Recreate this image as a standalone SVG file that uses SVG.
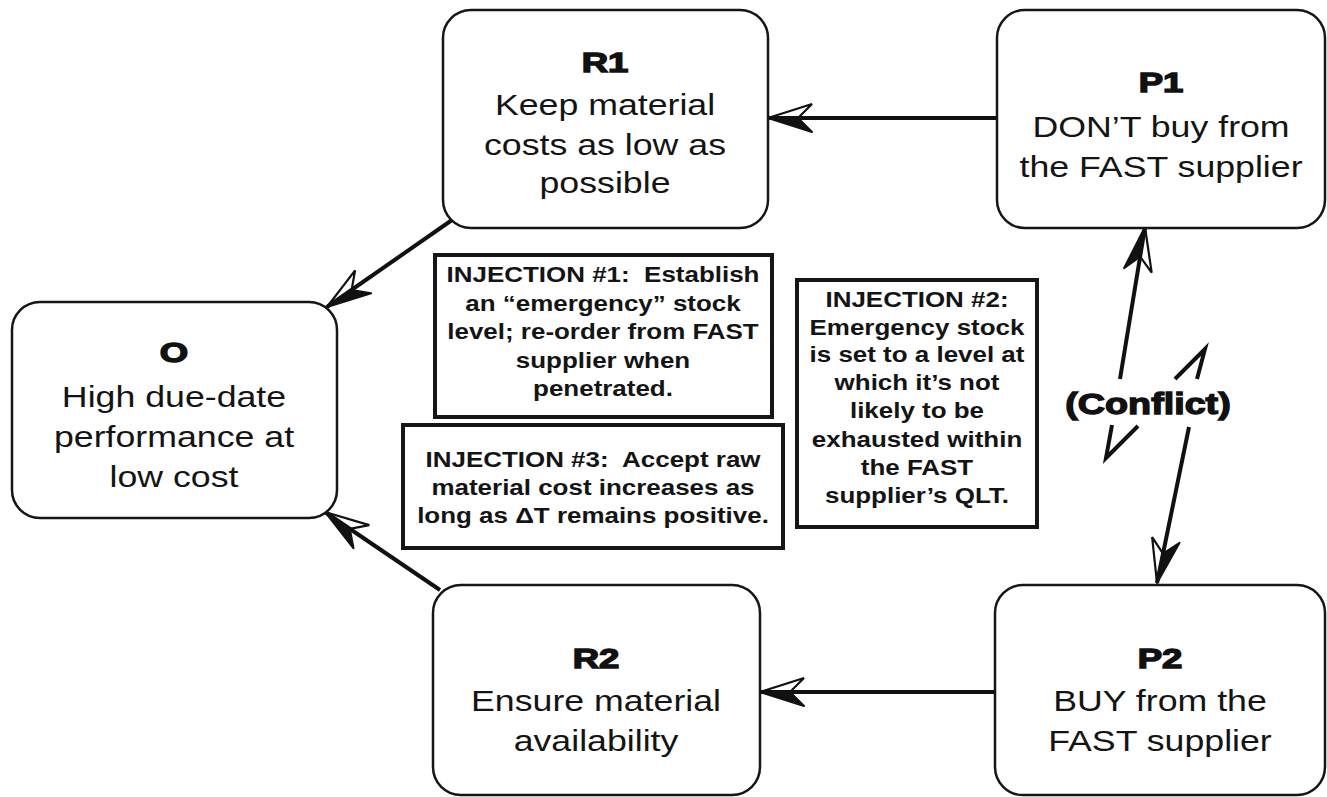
<svg xmlns="http://www.w3.org/2000/svg" width="1327" height="797" viewBox="0 0 1327 797">
  <style>
    .box { fill: #fff; stroke: #161616; stroke-width: 2.5; }
    .inj { fill: #fff; stroke: #161616; stroke-width: 4; }
    .ttl { font-family: "Liberation Sans", Arial, sans-serif; font-weight: bold; font-size: 27px; fill: #111; stroke: #111; stroke-width: 1.4; text-anchor: middle; }
    .txt { font-family: "Liberation Sans", Arial, sans-serif; font-size: 30px; fill: #141414; text-anchor: middle; }
    .itx { font-family: "Liberation Sans", Arial, sans-serif; font-weight: bold; font-size: 22px; fill: #141414; text-anchor: middle; white-space: pre; }
    .conf { font-family: "Liberation Sans", Arial, sans-serif; font-weight: bold; font-size: 29px; fill: #111; stroke: #111; stroke-width: 1.3; text-anchor: middle; }
    .wire { fill: none; stroke: #111; stroke-width: 4; }
  </style>
  <defs>
    <!-- half-open arrowhead: filled barb on one side, outlined barb on the other -->
    <marker id="ah" markerUnits="userSpaceOnUse" viewBox="0 0 50 32" markerWidth="50" markerHeight="32" refX="46" refY="16" orient="auto" overflow="visible">
      <path d="M46,16 L16,16 L2,2 Z" fill="#111" stroke="#111" stroke-width="2" stroke-linejoin="round"/>
      <path d="M46,16 L2,30 L16,16" fill="none" stroke="#111" stroke-width="2.2" stroke-linejoin="miter"/>
    </marker>
  </defs>

  <rect width="1327" height="797" fill="#fff"/>

  <!-- connectors -->
  <g id="connectors">
    <path class="wire" d="M997,118 L768,118" marker-end="url(#ah)"/>
    <path class="wire" d="M452,220 L327,307" marker-end="url(#ah)"/>
    <path class="wire" d="M440,590 L325,512" marker-end="url(#ah)"/>
    <path class="wire" d="M995,692 L760,692" marker-end="url(#ah)"/>
    <path class="wire" d="M1120,379 L1145,227" marker-end="url(#ah)"/>
    <path class="wire" d="M1189,427 L1157,583" marker-end="url(#ah)"/>
    <!-- conflict zig-zag marks -->
    <path class="wire" d="M1175,379 L1205,349 L1197,379"/>
    <path class="wire" d="M1112,425 L1106,458 L1138,426"/>
    <g transform="translate(1148 0) scale(1.3 1)">
      <text class="conf" x="0" y="414">(Conflict)</text>
    </g>
  </g>

  <!-- R1 -->
  <g id="R1">
    <rect class="box" x="443" y="10" width="325" height="218" rx="28"/>
    <g transform="translate(605 0) scale(1.35 1)"><text class="ttl" x="0" y="72">R1</text></g>
    <g transform="translate(605 0) scale(1.19 1)">
      <text class="txt" x="0" y="115">Keep material</text>
      <text class="txt" x="0" y="155">costs as low as</text>
      <text class="txt" x="0" y="193">possible</text>
    </g>
  </g>

  <!-- P1 -->
  <g id="P1">
    <rect class="box" x="997" y="10" width="328" height="218" rx="28"/>
    <g transform="translate(1161 0) scale(1.35 1)"><text class="ttl" x="0" y="92">P1</text></g>
    <g transform="translate(1161 0) scale(1.19 1)">
      <text class="txt" x="0" y="137">DON’T buy from</text>
      <text class="txt" x="0" y="177">the FAST supplier</text>
    </g>
  </g>

  <!-- O -->
  <g id="O">
    <rect class="box" x="12" y="302" width="325" height="216" rx="28"/>
    <g transform="translate(174 0) scale(1.35 1)"><text class="ttl" x="0" y="362">O</text></g>
    <g transform="translate(174 0) scale(1.19 1)">
      <text class="txt" x="0" y="407">High due-date</text>
      <text class="txt" x="0" y="447">performance at</text>
      <text class="txt" x="0" y="487">low cost</text>
    </g>
  </g>

  <!-- R2 -->
  <g id="R2">
    <rect class="box" x="433" y="585" width="327" height="210" rx="28"/>
    <g transform="translate(596 0) scale(1.35 1)"><text class="ttl" x="0" y="668">R2</text></g>
    <g transform="translate(596 0) scale(1.19 1)">
      <text class="txt" x="0" y="711">Ensure material</text>
      <text class="txt" x="0" y="751">availability</text>
    </g>
  </g>

  <!-- P2 -->
  <g id="P2">
    <rect class="box" x="995" y="585" width="330" height="210" rx="28"/>
    <g transform="translate(1160 0) scale(1.35 1)"><text class="ttl" x="0" y="668">P2</text></g>
    <g transform="translate(1160 0) scale(1.19 1)">
      <text class="txt" x="0" y="711">BUY from the</text>
      <text class="txt" x="0" y="751">FAST supplier</text>
    </g>
  </g>

  <!-- Injection 1 -->
  <g id="INJ1">
    <rect class="inj" x="435" y="255" width="337" height="162"/>
    <g transform="translate(603 0) scale(1.18 1)">
      <text class="itx" x="0" y="282">INJECTION #1:  Establish</text>
      <text class="itx" x="0" y="311">an “emergency” stock</text>
      <text class="itx" x="0" y="339">level; re-order from FAST</text>
      <text class="itx" x="0" y="368">supplier when</text>
      <text class="itx" x="0" y="396">penetrated.</text>
    </g>
  </g>

  <!-- Injection 2 -->
  <g id="INJ2">
    <rect class="inj" x="797" y="280" width="240" height="247"/>
    <g transform="translate(917 0) scale(1.18 1)">
      <text class="itx" x="0" y="307">INJECTION #2:</text>
      <text class="itx" x="0" y="335">Emergency stock</text>
      <text class="itx" x="0" y="362">is set to a level at</text>
      <text class="itx" x="0" y="390">which it’s not</text>
      <text class="itx" x="0" y="418">likely to be</text>
      <text class="itx" x="0" y="447">exhausted within</text>
      <text class="itx" x="0" y="475">the FAST</text>
      <text class="itx" x="0" y="503">supplier’s QLT.</text>
    </g>
  </g>

  <!-- Injection 3 -->
  <g id="INJ3">
    <rect class="inj" x="403" y="425" width="380" height="123"/>
    <g transform="translate(593 0) scale(1.18 1)">
      <text class="itx" x="0" y="467">INJECTION #3:  Accept raw</text>
      <text class="itx" x="0" y="495">material cost increases as</text>
      <text class="itx" x="0" y="523">long as ΔT remains positive.</text>
    </g>
  </g>
</svg>
